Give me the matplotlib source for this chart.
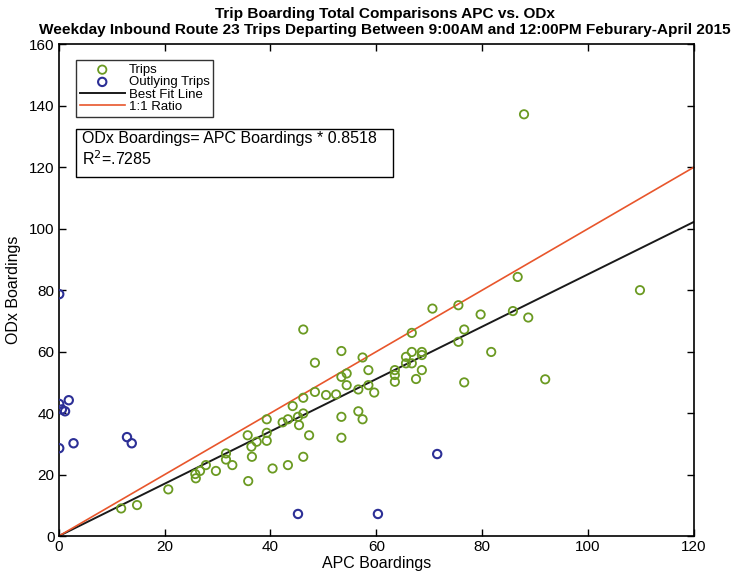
import numpy as np
import matplotlib.pyplot as plt
from matplotlib.patches import Rectangle

# Trips (APC boardings, ODx boardings)
trips_apc = [11.8, 14.8, 20.7, 25.8, 25.9, 26.7, 27.8, 29.7, 31.6, 31.6, 32.8, 35.8,
             35.7, 36.4, 36.5, 37.4, 39.3, 39.3, 39.3, 40.4, 42.3, 43.3, 43.3, 44.2,
             45.2, 45.4, 46.2, 46.2, 46.2, 46.2, 47.3, 48.4, 48.4, 50.5, 52.4, 53.4,
             53.4, 53.4, 53.4, 54.4, 54.4, 56.6, 56.6, 57.4, 57.4, 58.5, 58.5, 59.6,
             63.5, 63.5, 63.5, 65.6, 65.6, 66.7, 66.7, 66.7, 67.5, 68.6, 68.6, 68.6,
             70.6, 75.5, 75.5, 76.6, 76.6, 79.7, 81.7, 85.8, 86.7, 87.9, 88.7, 91.9,
             109.8]
trips_odx = [9.0, 10.1, 15.2, 20.2, 18.8, 21.2, 23.1, 21.2, 26.9, 24.9, 23.1, 17.9,
             32.8, 29.1, 25.8, 30.7, 38.0, 33.6, 31.0, 22.0, 37.0, 38.0, 23.1, 42.3,
             38.8, 36.1, 39.9, 45.0, 25.8, 67.2, 32.8, 56.4, 46.9, 45.9, 46.1, 60.2,
             51.8, 38.8, 32.0, 52.9, 49.1, 47.7, 40.6, 38.0, 58.1, 54.0, 49.1, 46.7,
             54.0, 52.4, 50.2, 58.3, 56.2, 59.9, 56.2, 66.1, 51.1, 59.9, 58.9, 54.0,
             74.0, 75.1, 63.2, 67.2, 50.0, 72.1, 59.9, 73.2, 84.3, 137.2, 71.1, 51.0,
             80.0]

# Outlying trips
out_apc = [0.1, 0.1, 1.9, 0.6, 1.2, 0.1, 2.8, 12.9, 13.8, 45.2, 60.3, 71.5]
out_odx = [78.7, 43.0, 44.2, 41.2, 40.6, 28.6, 30.2, 32.2, 30.2, 7.2, 7.2, 26.7]

slope = 0.8518
r2_text = '.7285'
line_x = [0, 120]

green = '#6b9a22'
blue = '#2c2f96'
orange = '#e8562c'

plt.rcParams['font.family'] = ['Liberation Sans', 'DejaVu Sans']

fig = plt.figure(figsize=(7.43, 5.74), dpi=100)
ax = fig.add_axes([0.079, 0.066, 0.855, 0.857])

ax.scatter(trips_apc, trips_odx, s=36, facecolors='none', edgecolors=green,
           linewidths=1.3, label='Trips', zorder=3)
ax.scatter(out_apc, out_odx, s=36, facecolors='none', edgecolors=blue,
           linewidths=1.5, label='Outlying Trips', zorder=3)
ax.plot(line_x, [v * slope for v in line_x], color='#1a1a1a', lw=1.4,
        label='Best Fit Line', zorder=2)
ax.plot(line_x, line_x, color=orange, lw=1.2, label='1:1 Ratio', zorder=2)

ax.set_xlim(0, 120)
ax.set_ylim(0, 160)
ax.set_xticks(np.arange(0, 121, 20))
ax.set_yticks(np.arange(0, 161, 20))
ax.tick_params(direction='in', top=True, right=True, length=5, width=1,
               labelsize=11, pad=3)
for s in ax.spines.values():
    s.set_linewidth(1.2)

ax.set_xlabel('APC Boardings', fontsize=11.5, labelpad=1)
ax.set_ylabel('ODx Boardings', fontsize=11.5, labelpad=6)
fig.text(0.518, 0.975, 'Trip Boarding Total Comparisons APC vs. ODx',
         ha='center', va='center', fontsize=11.1, fontweight='bold')
fig.text(0.518, 0.948,
         'Weekday Inbound Route 23 Trips Departing Between 9:00AM and 12:00PM Feburary-April 2015',
         ha='center', va='center', fontsize=11.1, fontweight='bold')

leg = ax.legend(loc='upper left', bbox_to_anchor=(0.027, 0.968), fontsize=9.5,
                frameon=True, fancybox=False, edgecolor='black',
                handlelength=3.4, handletextpad=0.3, labelspacing=0.0,
                borderpad=0.3, borderaxespad=0)
leg.get_frame().set_linewidth(1.0)

# equation box
ax.add_patch(Rectangle((0.027, 0.73), 0.50, 0.098, transform=ax.transAxes,
                       facecolor='white', edgecolor='black', lw=1.0, zorder=4))
ax.text(0.037, 0.808, 'ODx Boardings= APC Boardings * %.4f' % slope,
        transform=ax.transAxes, fontsize=11.5, va='center', zorder=5)
ax.text(0.037, 0.767, 'R$^2$=' + r2_text, transform=ax.transAxes,
        fontsize=11.5, va='center', zorder=5)

fig.savefig('out.png', dpi=100)
